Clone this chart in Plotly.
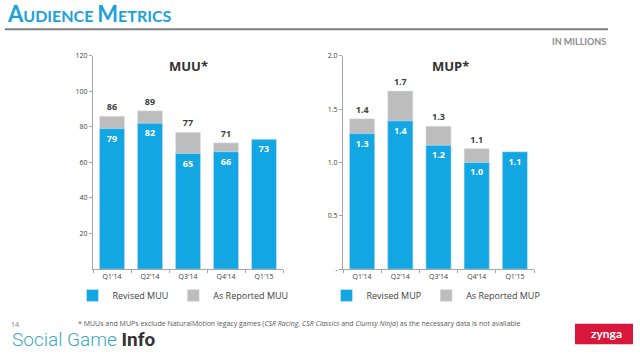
import plotly.graph_objects as go

quarters = ["Q1'14", "Q2'14", "Q3'14", "Q4'14", "Q1'15"]
muu_revised = [79, 82, 65, 66, 73]
muu_reported = [86, 89, 77, 71, None]
mup_revised = [1.27, 1.39, 1.16, 1.00, 1.10]
mup_reported = [1.41, 1.67, 1.34, 1.13, None]

muu_ticks = [20, 40, 60, 80, 100, 120]
mup_ticks = [0, 0.5, 1.0, 1.5, 2.0]
mup_ticktext = ["-", "0.5", "1.0", "1.5", "2.0"]

BLUE = "#12A6E2"
GRAY = "#BDBDBD"
DARK = "#404040"
FONT = "Open Sans"

fig = go.Figure()

def add_pair(revised, reported, fmt, xa, ya, leg, name_rev, name_rep):
    fig.add_trace(go.Bar(
        x=quarters, y=reported, name=name_rep, marker_color=GRAY,
        texttemplate="<b>%{y:" + fmt + "}</b>", textposition="outside",
        textfont=dict(size=9, color=DARK, family=FONT), cliponaxis=False,
        xaxis=xa, yaxis=ya, legend=leg, legendrank=2, hoverinfo="skip"))
    fig.add_trace(go.Bar(
        x=quarters, y=revised, name=name_rev, marker_color=BLUE,
        texttemplate="<b>%{y:" + fmt + "}</b>", textposition="inside",
        insidetextanchor="end", constraintext="none",
        textfont=dict(size=9, color="white", family=FONT),
        xaxis=xa, yaxis=ya, legend=leg, legendrank=1, hoverinfo="skip"))

add_pair(muu_revised, muu_reported, ".0f", "x", "y", "legend", "Revised MUU", "As Reported MUU")
add_pair(mup_revised, mup_reported, ".1f", "x2", "y2", "legend2", "Revised MUP", "As Reported MUP")

W, H = 640, 356
def px(x): return x / W
def py(y): return 1 - y / H

axis_common = dict(showgrid=False, zeroline=False, showline=True, linecolor="#A6A6A6",
                   linewidth=1, ticks="outside", ticklen=3, tickcolor="#A6A6A6",
                   tickfont=dict(size=7, color=DARK, family=FONT))

leg_common = dict(orientation="h", yanchor="middle", xanchor="center",
                  font=dict(size=9, color=DARK, family=FONT), itemwidth=30,
                  traceorder="normal", bgcolor="rgba(0,0,0,0)")

fig.update_layout(
    width=W, height=H, margin=dict(l=0, r=0, t=0, b=0),
    paper_bgcolor="white", plot_bgcolor="white",
    barmode="overlay", bargap=0.34, showlegend=True,
    font=dict(family=FONT, color=DARK),
    xaxis=dict(domain=[px(93), px(283)], anchor="y", tickson="boundaries", **axis_common),
    yaxis=dict(domain=[py(271), py(52)], anchor="x", range=[0, 120], tickvals=muu_ticks, **axis_common),
    xaxis2=dict(domain=[px(343), px(534)], anchor="y2", tickson="boundaries", **axis_common),
    yaxis2=dict(domain=[py(271), py(52)], anchor="x2", range=[0, 2.0], tickvals=mup_ticks,
                ticktext=mup_ticktext, **axis_common),
    legend=dict(x=px(183), y=py(298), **leg_common),
    legend2=dict(x=px(436), y=py(298), **leg_common),
)

ann = []
ann.append(dict(text="<b>MUU*</b>", x=px(188), y=py(63), font=dict(size=13, color="#333333")))
ann.append(dict(text="<b>MUP*</b>", x=px(450), y=py(63), font=dict(size=13, color="#333333")))
ann.append(dict(text="<b><span style='font-size:22px'>A</span>UDIENCE <span style='font-size:22px'>M</span>ETRICS</b>",
                x=px(5), y=py(9), xanchor="left", font=dict(size=16, color="#1BA1DB", family="Lato")))
ann.append(dict(text="<b>IN MILLIONS</b>", x=px(608), y=py(37), xanchor="right",
                font=dict(size=9, color="#8C8C8C", family="Lato")))
ann.append(dict(text="* MUUs and MUPs exclude NaturalMotion legacy games (<i>CSR Racing</i>, <i>CSR Classics</i> and <i>Clumsy Ninja</i>) as the necessary data is not available",
                x=px(76), y=py(327), xanchor="left", font=dict(size=7, color="#595959", family=FONT)))
ann.append(dict(text="14", x=px(9), y=py(328), xanchor="left", font=dict(size=7, color="#808080", family=FONT)))
ann.append(dict(text="Social Game <span style='color:#333333;font-weight:bold'>Info</span>",
                x=px(10), y=py(343), xanchor="left", font=dict(size=19, color="#3AA6C8", family="Roboto", weight=300)))
ann.append(dict(text="<b>zynga</b>", x=px(606), y=py(337.5), font=dict(size=12, color="white", family="Lato")))
for a in ann:
    a.setdefault("xanchor", "center")
    a.update(xref="paper", yref="paper", showarrow=False, yanchor="middle")
fig.update_layout(annotations=ann)

fig.add_shape(type="line", xref="paper", yref="paper", x0=px(5), x1=px(608), y0=py(25), y1=py(25),
              line=dict(color="#7F7F7F", width=2))
fig.add_shape(type="rect", xref="paper", yref="paper", x0=px(575), x1=px(633), y0=py(348), y1=py(327),
              fillcolor="#D9173B", line=dict(width=0), layer="below")

fig.write_html("out.html", config={"displayModeBar": False},
               post_script="document.body.style.margin='0';document.body.style.overflow='hidden';")
